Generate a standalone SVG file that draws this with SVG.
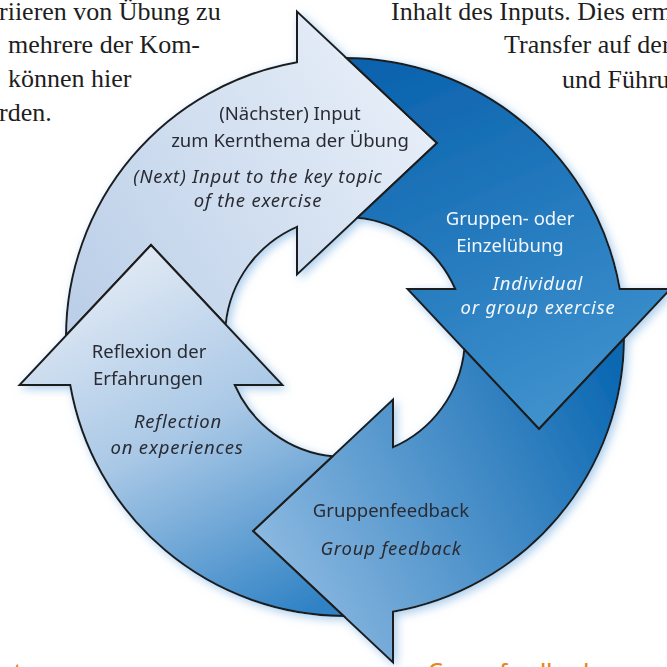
<svg xmlns="http://www.w3.org/2000/svg" width="667" height="667" viewBox="0 0 667 667">
  <style>
    .seg { stroke: #1f1f1f; stroke-width: 2; stroke-linejoin: miter; }
    .lbl { font-family: "Noto Sans", "Open Sans", sans-serif; font-size: 18.5px; fill: #2a2c33; text-anchor: middle; }
    .en { font-style: italic; letter-spacing: 0.8px; }
    .wt { fill: #f3f7fc; }
    .body { font-family: "Liberation Serif", serif; font-size: 26px; fill: #1e1e1e; }
    .head { font-family: "Noto Sans", "Open Sans", sans-serif; font-size: 22px; font-weight: 500; fill: #e8861a; }
  </style>
  <defs>
    <linearGradient id="gTop" gradientUnits="userSpaceOnUse" x1="420" y1="100" x2="80" y2="320">
      <stop offset="0" stop-color="#e7eef8"/>
      <stop offset="1" stop-color="#bbcfe8"/>
    </linearGradient>
    <linearGradient id="gRight" gradientUnits="userSpaceOnUse" x1="380" y1="60" x2="540" y2="420">
      <stop offset="0" stop-color="#0a62ad"/>
      <stop offset="1" stop-color="#3e91cd"/>
    </linearGradient>
    <linearGradient id="gBottom" gradientUnits="userSpaceOnUse" x1="620" y1="380" x2="270" y2="560">
      <stop offset="0" stop-color="#0b68b2"/>
      <stop offset="1" stop-color="#8ab8e0"/>
    </linearGradient>
    <linearGradient id="gLeft" gradientUnits="userSpaceOnUse" x1="150" y1="250" x2="330" y2="600">
      <stop offset="0" stop-color="#dfe8f4"/>
      <stop offset="0.45" stop-color="#a9c8e6"/>
      <stop offset="1" stop-color="#2f82c5"/>
    </linearGradient>
    <filter id="glow" x="-10%" y="-10%" width="120%" height="120%">
      <feGaussianBlur in="SourceAlpha" stdDeviation="5" result="b"/>
      <feOffset in="b" dx="3" dy="3" result="o"/>
      <feFlood flood-color="#8fbde6" flood-opacity="0.75"/>
      <feComposite in2="o" operator="in" result="s"/>
      <feMerge>
        <feMergeNode in="s"/>
        <feMergeNode in="SourceGraphic"/>
      </feMerge>
    </filter>
  </defs>

  <rect width="667" height="667" fill="#ffffff"/>

  <!-- surrounding page text -->
  <g id="page-text">
    <text class="body" x="-1" y="20">riieren von Übung zu</text>
    <text class="body" x="8" y="53">mehrere der Kom-</text>
    <text class="body" x="8" y="87">können hier</text>
    <text class="body" x="-1" y="121">rden.</text>
    <text class="body" x="391" y="20">Inhalt des Inputs. Dies erm</text>
    <text class="body" x="504" y="53">Transfer auf der</text>
    <text class="body" x="562" y="88">und Führu</text>
    <text class="head" x="0" y="679">ut</text>
    <text class="head" x="428" y="679">Group feedback</text>
  </g>

  <g id="cycle" filter="url(#glow)">
    <g id="node-input">
      <path class="seg" fill="url(#gTop)" d="M 66 335.5 A 279 279 0 0 1 297 62.2 L 297 11.5 L 437 143 L 297 274.5 L 297 226.8 A 120 120 0 0 0 225.7 324.5 L 151 245 Z"/>
      <text class="lbl" x="290" y="120">(Nächster) Input</text>
      <text class="lbl" x="290" y="147">zum Kernthema der Übung</text>
      <text class="lbl en" x="258" y="183">(Next) Input to the key topic</text>
      <text class="lbl en" x="258" y="207">of the exercise</text>
    </g>
    <g id="node-exercise">
      <path class="seg" fill="url(#gRight)" d="M 346.5 58 A 279 279 0 0 1 619.8 289 L 670.5 289 L 539 429 L 407.5 289 L 455.2 289 A 120 120 0 0 0 357.5 217.7 L 437 143 Z"/>
      <text class="lbl wt" x="510" y="225">Gruppen- oder</text>
      <text class="lbl wt" x="510" y="252">Einzelübung</text>
      <text class="lbl wt en" x="538" y="290">Individual</text>
      <text class="lbl wt en" x="538" y="314">or group exercise</text>
    </g>
    <g id="node-feedback">
      <path class="seg" fill="url(#gBottom)" d="M 624 338.5 A 279 279 0 0 1 393 611.8 L 393 662.5 L 253 531 L 393 399.5 L 393 447.2 A 120 120 0 0 0 464.3 349.5 L 539 429 Z"/>
      <text class="lbl" x="391" y="517">Gruppenfeedback</text>
      <text class="lbl en" x="391" y="555">Group feedback</text>
    </g>
    <g id="node-reflection">
      <path class="seg" fill="url(#gLeft)" d="M 343.5 616 A 279 279 0 0 1 70.2 385 L 19.5 385 L 151 245 L 282.5 385 L 234.8 385 A 120 120 0 0 0 332.5 456.3 L 253 531 Z"/>
      <text class="lbl" x="149" y="358">Reflexion der</text>
      <text class="lbl" x="148" y="385">Erfahrungen</text>
      <text class="lbl en" x="178" y="428">Reflection</text>
      <text class="lbl en" x="177" y="454">on experiences</text>
    </g>
  </g>

  <g id="connectors"/>
</svg>
